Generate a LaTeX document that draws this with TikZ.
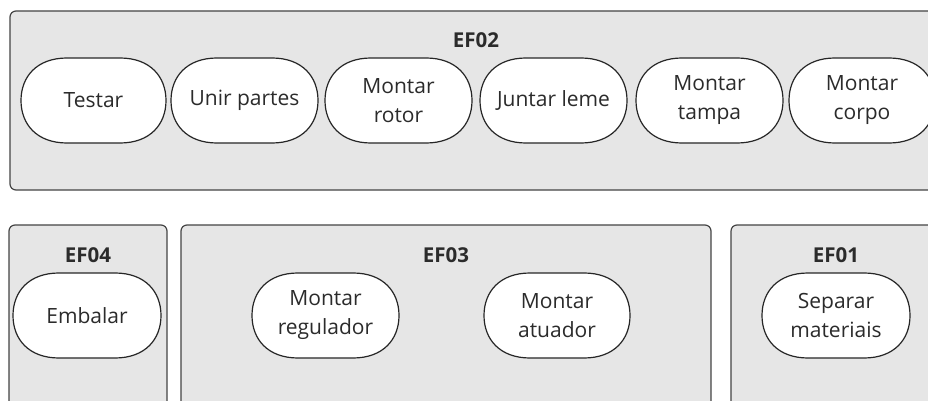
\documentclass[tikz,border=0pt]{standalone}
\usepackage{fontspec}
\setmainfont{Open Sans}
\definecolor{boxfill}{HTML}{E6E6E6}
\definecolor{boxline}{HTML}{444444}
\definecolor{pillline}{HTML}{262626}
\definecolor{txt}{HTML}{2B2B2B}
\tikzset{
  group/.style={draw=boxline, fill=boxfill, line width=1.2pt, rounded corners=6pt, inner sep=0pt},
  pillshape/.style={draw=pillline, fill=white, line width=1.2pt},
  pilltext/.style={inner sep=0pt, align=center, text=txt, font=\fontsize{21}{29}\selectfont},
  glabel/.style={text=txt, font=\fontsize{20.5}{24}\selectfont\bfseries, inner sep=0pt}
}
% \pillnode{name}{x}{y}{width}{text}
\newcommand\pillnode[5]{%
  \begin{scope}[shift={(#2,#3)}]
    \pgfmathsetmacro\pc{#4/2}
    \pgfmathsetmacro\pa{#4/2-46}
    \pgfmathsetmacro\pb{#4/2-16}
    \path[pillshape] (-\pa,-42.5) -- (\pa,-42.5)
      .. controls (\pb,-42.5) and (\pc,-24) .. (\pc,0)
      .. controls (\pc,24) and (\pb,42.5) .. (\pa,42.5)
      -- (-\pa,42.5)
      .. controls (-\pb,42.5) and (-\pc,24) .. (-\pc,0)
      .. controls (-\pc,-24) and (-\pb,-42.5) .. cycle;
  \end{scope}
  \node[pilltext, minimum width=#4pt, minimum height=85pt] (#1) at (#2,#3) {#5};
}
\begin{document}
\begin{tikzpicture}[x=1pt,y=-1pt]
\useasboundingbox (0,0) rectangle (928,401);
\clip (0,0) rectangle (928,401);
% groups
\node[group, minimum width=932pt, minimum height=179pt] (g02) at (476,100.5) {};
\node[group, minimum width=158pt, minimum height=200pt] (g04) at (88,325) {};
\node[group, minimum width=530pt, minimum height=200pt] (g03) at (446,325) {};
\node[group, minimum width=210pt, minimum height=200pt] (g01) at (836,325) {};
% labels
\node[glabel] (l02) at (476,40) {EF02};
\node[glabel] (l04) at (88,255) {EF04};
\node[glabel] (l03) at (446,255) {EF03};
\node[glabel] (l01) at (836,255) {EF01};
% EF02 pills
\pillnode{testar}{93.5}{100.5}{145}{Testar}
\pillnode{unir}{244.5}{100.5}{147}{Unir partes}
\pillnode{rotor}{398.5}{100.5}{147}{Montar\\rotor}
\pillnode{leme}{553.5}{100.5}{147}{Juntar leme}
\pillnode{tampa}{709.5}{100.5}{147}{Montar\\tampa}
\pillnode{corpo}{862}{100.5}{146}{Montar\\corpo}
% bottom pills
\pillnode{embalar}{87}{315.5}{148}{Embalar}
\pillnode{regulador}{325.5}{315.5}{147}{Montar\\regulador}
\pillnode{atuador}{557}{315.5}{146}{Montar\\atuador}
\pillnode{separar}{836}{315.5}{148}{Separar\\materiais}
\end{tikzpicture}
\end{document}
